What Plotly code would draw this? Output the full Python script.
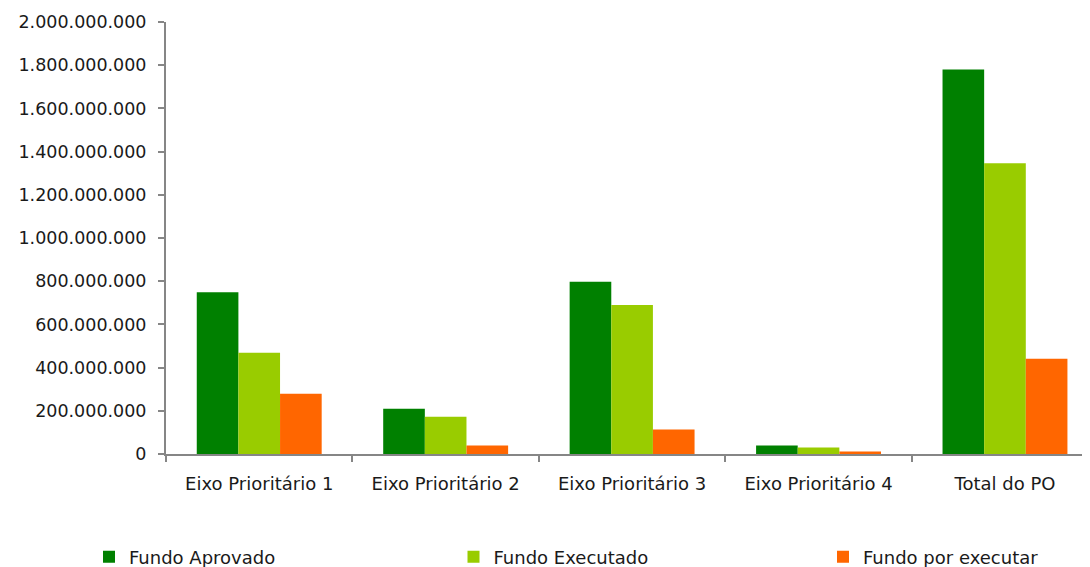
import plotly.graph_objects as go

categories = ["Eixo Prioritário 1", "Eixo Prioritário 2", "Eixo Prioritário 3",
              "Eixo Prioritário 4", "Total do PO"]
fundo_aprovado = [749_000_000, 210_000_000, 797_000_000, 39_000_000, 1_780_000_000]
fundo_executado = [469_000_000, 173_000_000, 690_000_000, 30_000_000, 1_346_000_000]
fundo_por_executar = [279_000_000, 39_000_000, 113_000_000, 12_000_000, 441_000_000]
y_ticks = [0, 200_000_000, 400_000_000, 600_000_000, 800_000_000, 1_000_000_000,
           1_200_000_000, 1_400_000_000, 1_600_000_000, 1_800_000_000, 2_000_000_000]

series_names = ["Fundo Aprovado", "Fundo Executado", "Fundo por executar"]
series_values = [fundo_aprovado, fundo_executado, fundo_por_executar]
series_colors = ["#008000", "#99CC00", "#FF6600"]

# page body has an 8px default margin, so the figure is sized/offset to compensate
W, H = 1082, 559
left, top, bottom = 158, 14, 112.5
legend_ids = ["legend", "legend2", "legend3"]
legend_x = [81, 445.5, 815]

fig = go.Figure()
for name, vals, color, lid in zip(series_names, series_values, series_colors, legend_ids):
    fig.add_trace(go.Bar(x=categories, y=vals, name=name, marker_color=color,
                         marker_line_width=0, legend=lid))

legend_common = dict(orientation="h", xref="container", xanchor="left",
                     yref="container", y=10 / H, yanchor="middle",
                     font=dict(family="DejaVu Sans", size=18, color="#1a1a1a"),
                     itemclick=False, bgcolor="rgba(0,0,0,0)")
fig.update_layout(
    width=W, height=H,
    margin=dict(l=left, r=0, t=top, b=bottom, pad=0, autoexpand=False),
    paper_bgcolor="white", plot_bgcolor="white",
    barmode="group", bargap=0.33, bargroupgap=0,
    separators=",.",
    font=dict(family="DejaVu Sans", size=16, color="#1a1a1a"),
    showlegend=True,
    legend=dict(x=legend_x[0] / W, **legend_common),
    legend2=dict(x=legend_x[1] / W, **legend_common),
    legend3=dict(x=legend_x[2] / W, **legend_common),
)
fig.update_xaxes(
    range=[-0.5, 4.456], showline=True, linecolor="#868686", linewidth=2,
    ticks="outside", tickson="boundaries", ticklen=6, tickcolor="#868686", tickwidth=2,
    showgrid=False, ticklabelstandoff=12, automargin=False,
    tickfont=dict(family="DejaVu Sans", size=18, color="#1a1a1a"),
)
fig.update_yaxes(
    range=[0, 2_000_000_000], tickvals=y_ticks, tickformat=",d",
    showline=True, linecolor="#868686", linewidth=2,
    ticks="outside", ticklen=6, tickcolor="#868686", tickwidth=2,
    showgrid=False, zeroline=False, ticklabelstandoff=8, automargin=False,
    tickfont=dict(family="DejaVu Sans", size=17.5, color="#1a1a1a"),
)
fig.write_html("out.html")
